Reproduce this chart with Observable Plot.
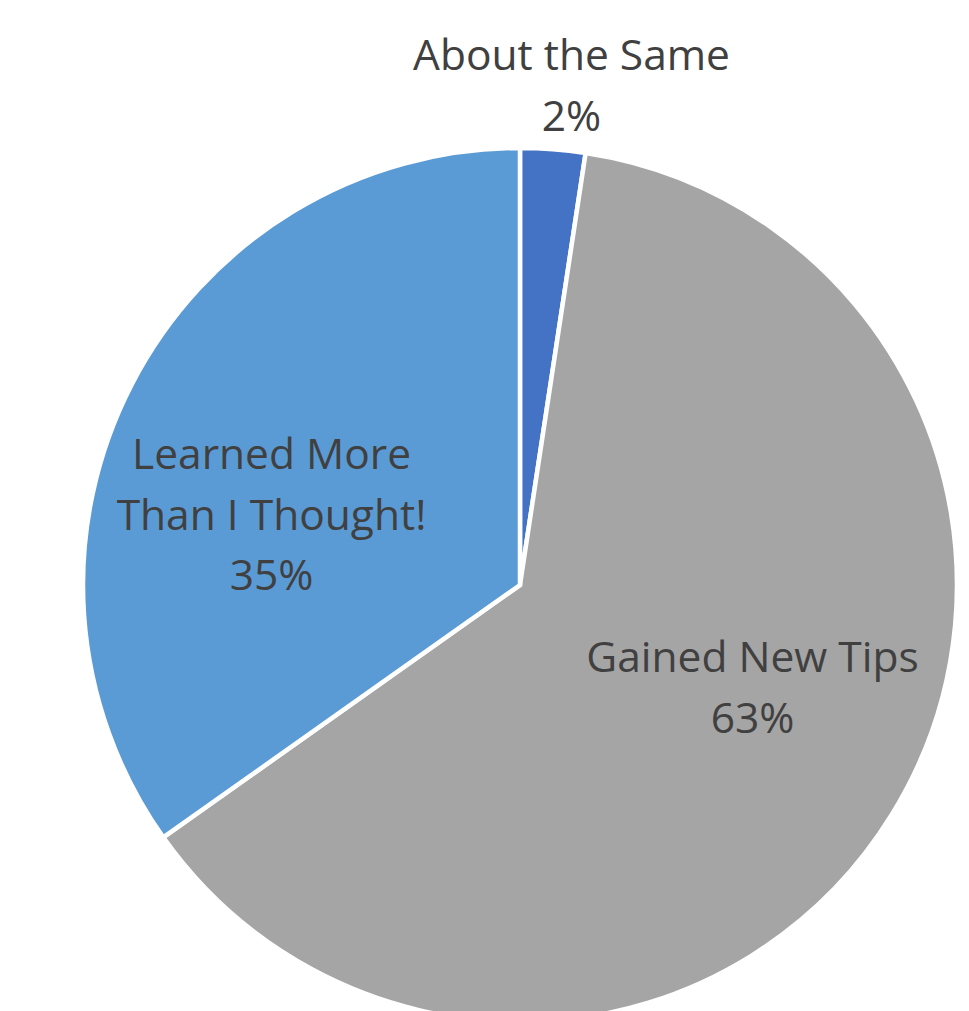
<!DOCTYPE html>
<html>
<head>
<meta charset="utf-8">
<script src="https://cdn.jsdelivr.net/npm/d3@7"></script>
<script src="https://cdn.jsdelivr.net/npm/@observablehq/plot@0.6"></script>
<style>
  html, body { margin: 0; padding: 0; background: #fff; }
  svg { display: block; }
</style>
</head>
<body>
<div id="chart"></div>
<script>
// ---- data ----
const categories = ["About the Same", "Gained New Tips", "Learned More\nThan I Thought!"];
const values = [2.4, 62.8, 34.8];
const colors = ["#4472C4", "#A5A5A5", "#5B9BD5"];

// ---- layout (not data) ----
const W = 969, H = 1011;
const cx = 520, cy = 585, R = 437;
const fontSize = 42.5;
const lineSpacing = 60.5;
// label anchors: horizontal centre and first-line baseline (px)
const labelAnchors = [
  {x: 571, firstBaseline: 64},
  {x: 752, firstBaseline: 666},
  {x: 271, firstBaseline: 463}
];

const total = d3.sum(values);
const rows = categories.map((c, i) => ({
  category: c,
  value: values[i],
  color: colors[i],
  label: c + "\n" + Math.round(values[i] / total * 100) + "%"
}));

const pie = d3.pie().sort(null).value(d => d.value)(rows);

const labelRows = rows.map((d, i) => {
  const n = d.label.split("\n").length;
  const yc = labelAnchors[i].firstBaseline + (n - 1) / 2 * lineSpacing - 0.32 * fontSize;
  return {...d, lx: (labelAnchors[i].x - cx) / R, ly: (cy - yc) / R};
});

function pieMark(index, scales, values, dimensions, context) {
  const g = d3.create("svg:g");
  const x0 = scales.x(0), y0 = scales.y(0);
  const r = Math.abs(scales.x(1) - scales.x(0));
  const arc = d3.arc().innerRadius(0).outerRadius(r);
  g.selectAll("path")
    .data(pie)
    .join("path")
    .attr("transform", `translate(${x0},${y0})`)
    .attr("d", arc)
    .attr("fill", d => d.data.color)
    .attr("stroke", "#fff")
    .attr("stroke-width", 4.5)
    .attr("stroke-linejoin", "miter");
  return g.node();
}

const chart = Plot.plot({
  width: W,
  height: H,
  margin: 0,
  x: {domain: [-1, 1], range: [cx - R, cx + R], axis: null},
  y: {domain: [-1, 1], range: [cy + R, cy - R], axis: null},
  style: {background: "#fff"},
  marks: [
    pieMark,
    Plot.text(labelRows, {
      x: "lx",
      y: "ly",
      text: "label",
      fill: "#404040",
      fontSize: fontSize,
      fontFamily: "Open Sans",
      textAnchor: "middle",
      lineAnchor: "middle",
      lineHeight: lineSpacing / fontSize
    })
  ]
});
document.getElementById("chart").append(chart);
</script>
</body>
</html>
